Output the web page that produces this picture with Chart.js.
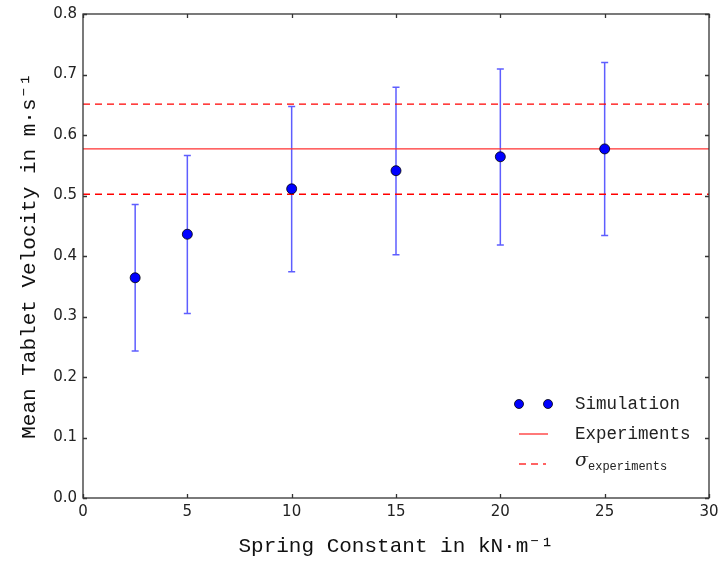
<!DOCTYPE html>
<html>
<head>
<meta charset="utf-8">
<script src="https://cdn.jsdelivr.net/npm/chart.js@4.4.1/dist/chart.umd.min.js"></script>
<style>
  html, body { margin: 0; padding: 0; background: #fff; }
  #wrap { width: 720px; height: 561px; }
</style>
</head>
<body>
<div id="wrap"><canvas id="chart" width="720" height="561"></canvas></div>
<script>
// spring constants (kN/m) and simulated mean velocity (m/s)
const springK = [2.5, 5, 10, 15, 20, 25];
const simMean = [0.364, 0.436, 0.511, 0.541, 0.564, 0.577];
const simLow  = [0.243, 0.305, 0.374, 0.402, 0.418, 0.434];
const simHigh = [0.485, 0.566, 0.647, 0.679, 0.709, 0.720];

// experiments
const expMean = 0.577;
const expLow = 0.502;
const expHigh = 0.651;
const xRange = [0, 30];

const monoFont = "'Liberation Mono', 'DejaVu Sans Mono', monospace";
const sansFont = "'DejaVu Sans', sans-serif";

// error bars for the simulation points
const errorBars = {
    id: 'errorBars',
    beforeDatasetsDraw(chart) {
        const ctx = chart.ctx;
        const xs = chart.scales.x, ys = chart.scales.y;
        ctx.save();
        ctx.strokeStyle = 'rgba(40, 40, 255, 0.75)';
        ctx.lineWidth = 1.5;
        springK.forEach(function(k, i) {
            const px = xs.getPixelForValue(k);
            const top = ys.getPixelForValue(simHigh[i]);
            const bot = ys.getPixelForValue(simLow[i]);
            ctx.beginPath();
            ctx.moveTo(px, top); ctx.lineTo(px, bot);
            ctx.moveTo(px - 3.5, top); ctx.lineTo(px + 3.5, top);
            ctx.moveTo(px - 3.5, bot); ctx.lineTo(px + 3.5, bot);
            ctx.stroke();
        });
        ctx.restore();
    }
};

// frame with inward ticks on all sides, plus the legend in the lower right
const frame = {
    id: 'frame',
    afterDraw(chart) {
        const ctx = chart.ctx;
        const a = chart.chartArea;
        const xs = chart.scales.x, ys = chart.scales.y;
        ctx.save();
        ctx.strokeStyle = '#333';
        ctx.lineWidth = 1.3;
        ctx.strokeRect(a.left, a.top, a.right - a.left, a.bottom - a.top);
        ctx.beginPath();
        xs.ticks.forEach(function(t) {
            const px = Math.round(xs.getPixelForValue(t.value)) + 0.5;
            ctx.moveTo(px, a.bottom); ctx.lineTo(px, a.bottom - 4);
            ctx.moveTo(px, a.top); ctx.lineTo(px, a.top + 4);
        });
        ys.ticks.forEach(function(t) {
            const py = Math.round(ys.getPixelForValue(t.value)) + 0.5;
            ctx.moveTo(a.left, py); ctx.lineTo(a.left + 4, py);
            ctx.moveTo(a.right, py); ctx.lineTo(a.right - 4, py);
        });
        ctx.stroke();

        // legend
        const lx = a.right - 190, tx = a.right - 134;
        const rows = [a.bottom - 94, a.bottom - 64, a.bottom - 34];
        ctx.fillStyle = '#0000ff';
        ctx.strokeStyle = '#000';
        ctx.lineWidth = 0.8;
        [lx, lx + 29].forEach(function(x) {
            ctx.beginPath();
            ctx.arc(x, rows[0], 4.5, 0, Math.PI * 2);
            ctx.fill(); ctx.stroke();
        });
        ctx.strokeStyle = '#ff3030';
        ctx.lineWidth = 1.3;
        ctx.beginPath();
        ctx.moveTo(lx, rows[1]); ctx.lineTo(lx + 29, rows[1]);
        ctx.stroke();
        ctx.setLineDash([7, 5]);
        ctx.beginPath();
        ctx.moveTo(lx, rows[2]); ctx.lineTo(lx + 27, rows[2]);
        ctx.stroke();
        ctx.setLineDash([]);

        ctx.fillStyle = '#222';
        ctx.textBaseline = 'middle';
        ctx.font = '17.5px ' + monoFont;
        ctx.fillText('Simulation', tx, rows[0]);
        ctx.fillText('Experiments', tx, rows[1]);
        ctx.font = 'italic 19px DejaVu Serif, serif';
        ctx.fillText('σ', tx, rows[2] - 3);
        ctx.font = '12px ' + monoFont;
        ctx.fillText('experiments', tx + 13, rows[2] + 3);
        ctx.restore();
    }
};

new Chart(document.getElementById('chart'), {
    type: 'scatter',
    data: {
        datasets: [{
            label: 'Simulation',
            data: springK.map((k, i) => ({ x: k, y: simMean[i] })),
            backgroundColor: '#0000ff',
            borderColor: '#000',
            borderWidth: 0.8,
            pointRadius: 5,
            order: 0
        }, {
            type: 'line',
            label: 'Experiments',
            data: xRange.map(x => ({ x: x, y: expMean })),
            borderColor: '#ff3030',
            borderWidth: 1.4,
            pointRadius: 0,
            order: 1
        }, {
            type: 'line',
            label: 'σ upper',
            data: xRange.map(x => ({ x: x, y: expHigh })),
            borderColor: '#ff0000',
            borderWidth: 1.4,
            borderDash: [7, 5],
            pointRadius: 0,
            order: 1
        }, {
            type: 'line',
            label: 'σ lower',
            data: xRange.map(x => ({ x: x, y: expLow })),
            borderColor: '#ff0000',
            borderWidth: 1.4,
            borderDash: [7, 5],
            pointRadius: 0,
            order: 1
        }]
    },
    options: {
        responsive: false,
        animation: false,
        layout: { padding: { left: 0, top: 14, right: 11, bottom: 0 } },
        plugins: {
            legend: { display: false },
            tooltip: { enabled: false }
        },
        scales: {
            x: {
                type: 'linear',
                min: 0, max: 30,
                ticks: { stepSize: 5, color: '#222', padding: 5, font: { family: sansFont, size: 15 } },
                grid: { display: false, drawTicks: false },
                border: { display: false },
                title: {
                    display: true,
                    text: 'Spring Constant in kN·m⁻¹',
                    color: '#111',
                    font: { family: monoFont, size: 21 },
                    padding: { top: 0, bottom: 2 }
                },
                afterFit: function(scale) {
                    scale.height = 63;
                    scale.paddingLeft = 0;
                    scale.paddingRight = 0;
                }
            },
            y: {
                min: 0, max: 0.8,
                ticks: {
                    stepSize: 0.1, color: '#222', padding: 6,
                    font: { family: sansFont, size: 15 },
                    callback: v => v.toFixed(1)
                },
                grid: { display: false, drawTicks: false },
                border: { display: false },
                title: {
                    display: true,
                    text: 'Mean Tablet Velocity in m·s⁻¹',
                    color: '#111',
                    font: { family: monoFont, size: 21 },
                    padding: { top: 17, bottom: 0 }
                },
                afterFit: function(scale) {
                    scale.width = 83;
                    scale.paddingTop = 0;
                    scale.paddingBottom = 0;
                }
            }
        }
    },
    plugins: [errorBars, frame]
});
</script>
</body>
</html>
